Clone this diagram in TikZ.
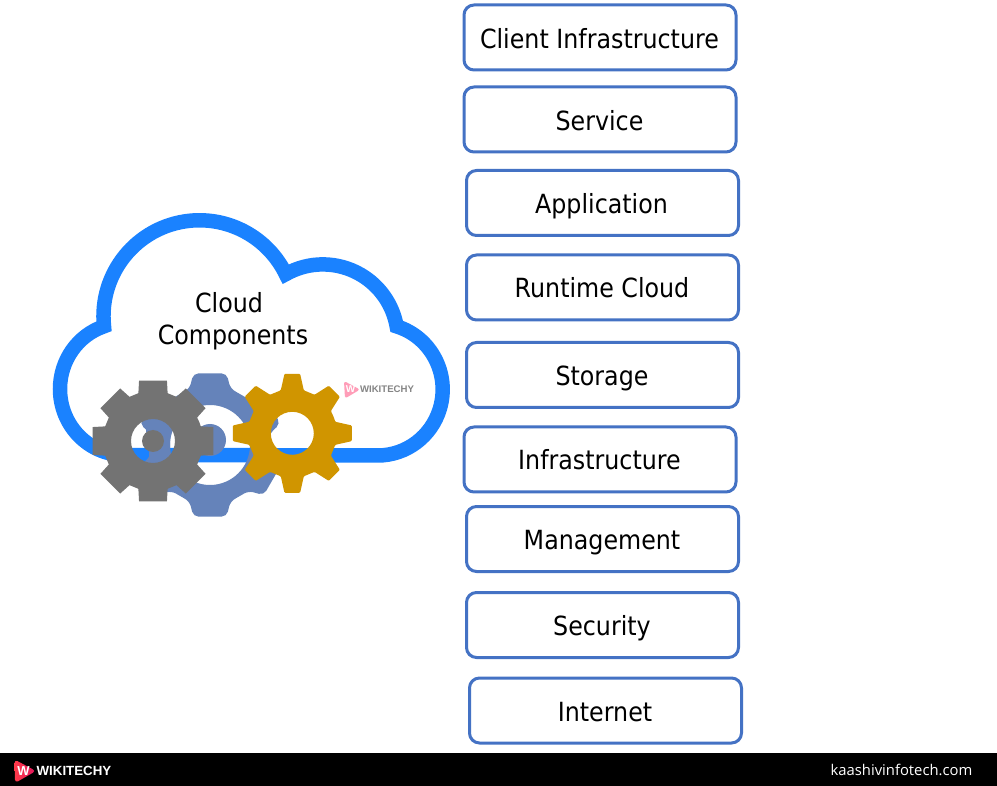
\documentclass[tikz,border=0pt]{standalone}
\usepackage{fontspec}
\setmainfont{DejaVu Sans}[FakeStretch=0.9]
\newfontfamily\brandfont{Liberation Sans}
\newfontfamily\sitefont{Open Sans}
\definecolor{cloudblue}{HTML}{1A82FF}
\definecolor{boxblue}{HTML}{4472C4}
\definecolor{gearblue}{HTML}{6583BA}
\definecolor{geargray}{HTML}{737373}
\definecolor{geargold}{HTML}{D09500}
\definecolor{wmpink}{HTML}{FF9DB8}
\definecolor{logoA}{HTML}{FF3A4A}
\definecolor{logoB}{HTML}{E0155E}
\tikzset{
  compbox/.style={draw=boxblue,line width=3pt,rounded corners=10pt,fill=white,minimum width=272pt,minimum height=65pt,inner sep=0pt},
  cloudtext/.style={font=\fontsize{26.4}{31}\selectfont,text=black,inner sep=0pt,anchor=base}
}
\begin{document}
\begin{tikzpicture}[x=1pt,y=1pt,yscale=-1]
\useasboundingbox (0,0) rectangle (997,786);
\fill[white] (0,0) rectangle (997,786);
% cloud
\draw[cloudblue,line width=14.5pt,line join=miter,miter limit=10]
  (124,455) arc[start angle=90,end angle=251.8,x radius=64,y radius=66]
  arc[start angle=174,end angle=334,radius=96]
  arc[start angle=240.4,end angle=350,radius=75]
  arc[start angle=287,end angle=450,x radius=65,y radius=66]
  -- cycle;
% blue gear
\begin{scope}[shift={(210,445)}]
  \fill[gearblue,even odd rule,rounded corners=5pt]
    (0:60) \foreach \a in {30,90,150,210,270,330} {
      -- (\a-20:60) -- (\a-13:73.5) -- (\a+13:73.5) -- (\a+20:60)
    } -- cycle
    (0,0) circle[radius=40];
  \fill[gearblue] (0,-5) circle[radius=16];
\end{scope}
\fill[gearblue,rounded corners=3pt] (147,417) -- (175,417) -- (170,433) -- (170,452) -- (172,464) -- (149,466) -- (149,448) -- (146,432) -- cycle;
% gray gear
\begin{scope}[shift={(153,441)}]
  \fill[geargray,even odd rule]
    (-22.5:50) \foreach \a in {0,45,...,315} {
      -- (\a-17:50) -- (\a-13:62) -- (\a+13:62) -- (\a+17:50)
    } -- cycle
    (0,0) circle[radius=22];
  \fill[geargray] (0,0) circle[radius=11];
\end{scope}
% gold gear
\begin{scope}[shift={(292.3,433.3)}]
  \fill[geargold,even odd rule,rounded corners=1pt]
    (-22.5:44.5) \foreach \a in {0,45,...,315} {
      -- (\a-15:44.5) -- (\a-7.5:60) -- (\a+7.5:60) -- (\a+15:44.5)
    } -- cycle
    (0,0) circle[radius=21.5];
\end{scope}
\node[cloudtext] (cloudlabelA) at (229,312.8) {Cloud};
\node[cloudtext] (cloudlabelB) at (233,344.6) {Components};
% watermark
\fill[wmpink,rounded corners=2.5pt] (344,381) -- (360,389.5) -- (345,398.5) -- cycle;
\node[inner sep=0pt,text=white,font=\brandfont\bfseries\fontsize{10}{10}\selectfont] (wmW) at (350.5,389.4) {W};
\node[inner sep=0pt,text=black!48,font=\brandfont\bfseries\fontsize{9.6}{10}\selectfont] (wmText) at (387,389.5) {WIKITECHY};
% boxes
\node[compbox] (b1) at (600,37.5) {}; \node[cloudtext] (t1) at (599.5,48.5) {Client Infrastructure};
\node[compbox] (b2) at (600,119.5) {}; \node[cloudtext] (t2) at (599.5,130.5) {Service};
\node[compbox] (b3) at (602.5,203) {}; \node[cloudtext] (t3) at (601.5,213.5) {Application};
\node[compbox] (b4) at (602.5,287.5) {}; \node[cloudtext] (t4) at (602,297.5) {Runtime Cloud};
\node[compbox] (b5) at (602.5,375) {}; \node[cloudtext] (t5) at (602,385.5) {Storage};
\node[compbox] (b6) at (600,459.5) {}; \node[cloudtext] (t6) at (599.5,469.5) {Infrastructure};
\node[compbox] (b7) at (602.5,539) {}; \node[cloudtext] (t7) at (602,549.5) {Management};
\node[compbox] (b8) at (602.5,625) {}; \node[cloudtext] (t8) at (602,635.5) {Security};
\node[compbox] (b9) at (605.5,710.5) {}; \node[cloudtext] (t9) at (605,721.5) {Internet};
% footer
\fill[black] (0,753) rectangle (997,786);
\shade[rounded corners=3.5pt,left color=logoA,right color=logoB] (14.5,759.5) -- (36,771) -- (15,783) -- cycle;
\node[inner sep=0pt,text=white,font=\brandfont\bfseries\fontsize{13}{13}\selectfont] (footW) at (23.5,771) {W};
\node[inner sep=0pt,text=white,font=\brandfont\bfseries\fontsize{13.3}{14}\selectfont] (footText) at (74,771) {WIKITECHY};
\node[inner sep=0pt,text=white,font=\sitefont\fontsize{14.8}{16}\selectfont] (site) at (901.5,770) {kaashivinfotech.com};
\end{tikzpicture}
\end{document}
